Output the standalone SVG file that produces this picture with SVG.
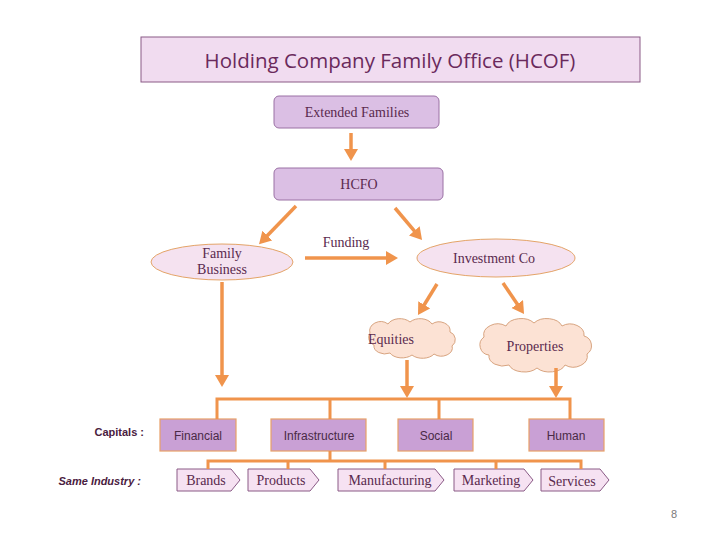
<svg xmlns="http://www.w3.org/2000/svg" width="720" height="540" viewBox="0 0 720 540">
<style>
.ser{font-family:"Liberation Serif","DejaVu Serif",serif;fill:#5a2a4e;font-size:14px;text-anchor:middle}
.san{font-family:"Liberation Sans","Open Sans",sans-serif;fill:#4a2a46;font-size:12px;text-anchor:middle}
.lbl{font-family:"Liberation Sans",sans-serif;fill:#4a2040;font-size:11px;font-weight:bold;text-anchor:end}
.arr{stroke:#f0944c;stroke-width:3.5;fill:none;marker-end:url(#ah)}
.bus{stroke:#f0944c;stroke-width:3;fill:none}
.top{fill:#dbbfe4;stroke:#9a70a4;stroke-width:1}
.ell{fill:#f5e2f0;stroke:#e4a468;stroke-width:1}
.cld{fill:#fce2d4;stroke:#d8a480;stroke-width:1}
.cap{fill:#c9a0d5;stroke:#e8a068;stroke-width:1.2}
.chv{fill:#f6e2f2;stroke:#8a5a86;stroke-width:1}
</style>
<defs>
<marker id="ah" markerUnits="userSpaceOnUse" markerWidth="14" markerHeight="16" refX="2" refY="7" orient="auto">
<path d="M0,0 L12,7 L0,14 z" fill="#f0944c"/>
</marker>
</defs>
<rect width="720" height="540" fill="#ffffff"/>
<g id="title">
<rect x="141" y="37" width="499" height="45" fill="#f1dcf0" stroke="#8a5a86" stroke-width="1"/>
<text x="390" y="68" style="font-family:'Open Sans','Liberation Sans',sans-serif;font-size:20.5px;fill:#6a2a5c;text-anchor:middle">Holding Company Family Office (HCOF)</text>
</g>
<g id="extended-families">
<rect class="top" x="274" y="96" width="165" height="32" rx="5"/>
<text class="ser" x="357" y="117">Extended Families</text>
</g>
<g id="hcfo">
<rect class="top" x="274" y="168" width="169" height="32" rx="5"/>
<text class="ser" x="359" y="189">HCFO</text>
</g>
<g id="family-business">
<ellipse class="ell" cx="222" cy="262" rx="71" ry="18"/>
<text class="ser" x="222" y="258">Family</text>
<text class="ser" x="222" y="274">Business</text>
</g>
<g id="investment-co">
<ellipse class="ell" cx="496" cy="258" rx="79" ry="19"/>
<text class="ser" x="494" y="263">Investment Co</text>
</g>
<g id="equities">
<path class="cld" d="M370,333 A11,9 0 0 1 388,324 A13,9 0 0 1 410,322 A13,9 0 0 1 432,324 A11,9 0 0 1 450,332 A8,8 0 0 1 452,346 A11,8 0 0 1 434,354 A13,8 0 0 1 412,355 A13,8 0 0 1 390,353 A11,8 0 0 1 374,345 A8,8 0 0 1 370,333 Z"/>
<text class="ser" x="391" y="344">Equities</text>
</g>
<g id="properties">
<path class="cld" d="M484,337 A14,11 0 0 1 506,326 A16,11 0 0 1 534,323 A16,11 0 0 1 562,326 A14,11 0 0 1 584,336 A10,10 0 0 1 587,354 A14,11 0 0 1 565,365 A16,10 0 0 1 537,368 A16,10 0 0 1 509,365 A14,10 0 0 1 489,355 A10,10 0 0 1 484,337 Z"/>
<text class="ser" x="535" y="351">Properties</text>
</g>
<g id="funding-label">
<text class="ser" x="346" y="247">Funding</text>
</g>
<g id="labels">
<text class="lbl" x="144" y="436">Capitals :</text>
<text class="lbl" x="141" y="485" font-style="italic">Same Industry :</text>
</g>
<g id="capitals">
<g id="financial"><rect class="cap" x="160" y="419" width="76" height="32"/><text class="san" x="198" y="440">Financial</text></g>
<g id="infrastructure"><rect class="cap" x="271" y="419" width="95" height="32"/><text class="san" x="319" y="440">Infrastructure</text></g>
<g id="social"><rect class="cap" x="398" y="419" width="75" height="32"/><text class="san" x="436" y="440">Social</text></g>
<g id="human"><rect class="cap" x="529" y="419" width="75" height="32"/><text class="san" x="566" y="440">Human</text></g>
</g>
<g id="industries">
<g id="brands"><path class="chv" d="M177,469 H231 L240,480 L231,491 H177 Z"/><text class="ser" x="206" y="485">Brands</text></g>
<g id="products"><path class="chv" d="M248,469 H310 L319,480 L310,491 H248 Z"/><text class="ser" x="281" y="485">Products</text></g>
<g id="manufacturing"><path class="chv" d="M338,469 H435 L444,480 L435,491 H338 Z"/><text class="ser" x="390" y="485">Manufacturing</text></g>
<g id="marketing"><path class="chv" d="M454,469 H524 L533,480 L524,491 H454 Z"/><text class="ser" x="491" y="485">Marketing</text></g>
<g id="services"><path class="chv" d="M541,469 H600 L609,480 L600,491 H541 Z"/><text class="ser" x="572" y="486">Services</text></g>
</g>
<g id="connectors">
<line class="arr" x1="351" y1="133" x2="351" y2="151"/>
<line class="arr" x1="296" y1="206" x2="266" y2="237"/>
<line class="arr" x1="395" y1="208" x2="415.6" y2="232.4"/>
<line class="arr" x1="305" y1="258" x2="388" y2="258"/>
<line class="arr" x1="437" y1="284" x2="423.2" y2="306.5"/>
<line class="arr" x1="503" y1="283" x2="518.4" y2="305.7"/>
<line class="arr" x1="222" y1="282" x2="222" y2="377"/>
<line class="arr" x1="407" y1="360" x2="407" y2="388"/>
<line class="arr" x1="556" y1="368" x2="556" y2="388"/>
<path class="bus" d="M217,419 V399 H570 V419 M330,399 V419 M439,399 V419"/>
<path class="bus" d="M330,451 V461 M208,469 V461 H581 V469 M288,461 V469 M385,461 V469 M496,461 V469"/>
</g>
<text x="674" y="518" style="font-family:'Liberation Sans',sans-serif;font-size:11px;fill:#7a7a7a;text-anchor:middle">8</text>
</svg>
